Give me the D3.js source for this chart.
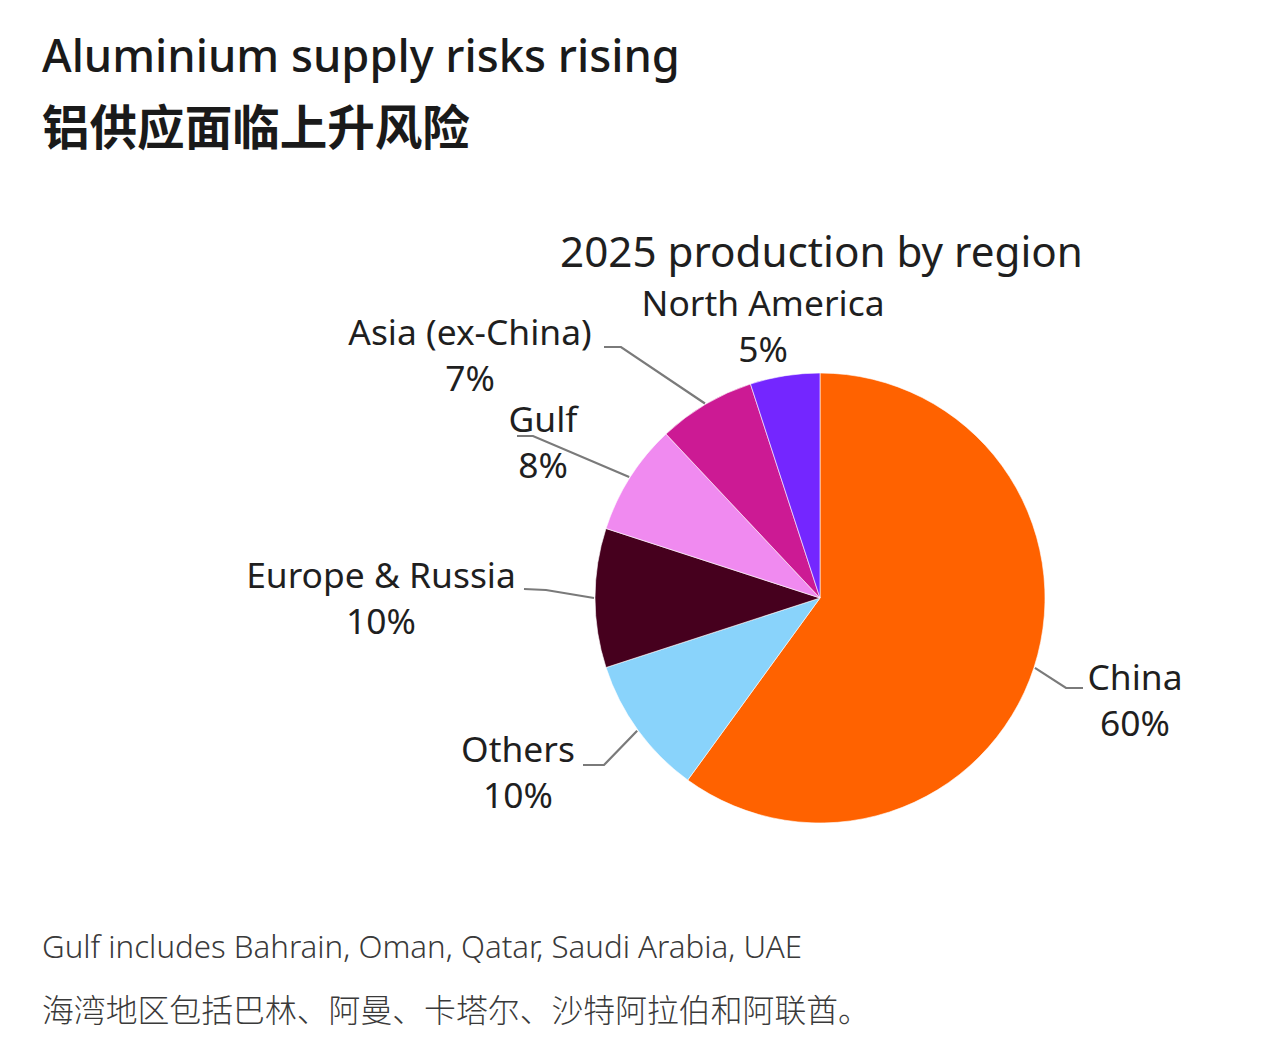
<!DOCTYPE html>
<html>
<head>
<meta charset="utf-8">
<script src="https://cdn.jsdelivr.net/npm/d3@7"></script>
<style>
  html, body { margin: 0; padding: 0; background: #ffffff; }
  svg { display: block; }
  text { font-family: "Noto Sans", "Noto Sans CJK SC", sans-serif; }
</style>
</head>
<body>
<div id="chart"></div>
<script>
// values (share of 2025 output, %)
var regions = ["China", "Others", "Europe & Russia", "Gulf", "Asia (ex-China)", "North America"];
var shares = [60, 10, 10, 8, 7, 5];
var sliceColors = ["#ff6200", "#89d3fb", "#46001e", "#f08af0", "#cc1a94", "#7426ff"];

var titleEn = "Aluminium supply risks rising";
var titleZh = "铝供应面临上升风险";
var subtitle = "2025 production by region";
var noteEn = "Gulf includes Bahrain, Oman, Qatar, Saudi Arabia, UAE";
var noteZh = "海湾地区包括巴林、阿曼、卡塔尔、沙特阿拉伯和阿联酋。";

// label placement: centre x / first baseline, plus leader line end + elbow
var labelLayout = {
    "China":           { x: 1135, y: 690, leader: [[1083, 688], [1066, 688]] },
    "Others":          { x: 518,  y: 762, leader: [[583, 765], [604, 765]] },
    "Europe & Russia": { x: 381,  y: 588, leader: [[524, 589], [546, 590]] },
    "Gulf":            { x: 543,  y: 432, leader: [[517, 436], [533, 436]] },
    "Asia (ex-China)": { x: 470,  y: 345, leader: [[604, 347], [621, 347]] },
    "North America":   { x: 763,  y: 316, leader: null }
};

var width = 1280, height = 1054;
var cx = 820, cy = 598, radius = 225;
var lineGap = 46;

var data = regions.map(function(name, i) {
    return { name: name, value: shares[i] };
});

var svg = d3.select("#chart")
    .append("svg")
    .attr("width", width)
    .attr("height", height);

svg.append("rect")
    .attr("width", width)
    .attr("height", height)
    .attr("fill", "#ffffff");

// squeeze/stretch font size so a string spans the width it has in the picture
function fitWidth(sel, target) {
    var fs = parseFloat(sel.attr("font-size"));
    var len = sel.node().getComputedTextLength();
    if (len > 0) {
        sel.attr("font-size", (fs * target / len).toFixed(2));
    }
    return sel;
}

var t1 = svg.append("text")
    .attr("x", 42).attr("y", 72)
    .attr("font-size", 44)
    .attr("font-weight", 500)
    .attr("fill", "#1a1a1a")
    .text(titleEn);
fitWidth(t1, 638);

var t2 = svg.append("text")
    .attr("x", 42).attr("y", 145)
    .attr("font-size", 47)
    .attr("font-weight", 700)
    .attr("fill", "#1a1a1a")
    .style("font-family", "'Noto Sans CJK SC', sans-serif")
    .text(titleZh);
fitWidth(t2, 428);

var st = svg.append("text")
    .attr("x", 560).attr("y", 267)
    .attr("font-size", 38)
    .attr("fill", "#1f1f1f")
    .text(subtitle);
fitWidth(st, 523);

var pie = d3.pie()
    .sort(null)
    .value(function(d) { return d.value; });

var arc = d3.arc()
    .innerRadius(0)
    .outerRadius(radius);

var arcs = pie(data);

var g = svg.append("g")
    .attr("transform", "translate(" + cx + "," + cy + ")");

g.selectAll("path.slice")
    .data(arcs)
    .enter()
    .append("path")
    .attr("class", "slice")
    .attr("d", arc)
    .attr("fill", function(d, i) { return sliceColors[i]; })
    .attr("stroke", "#ffffff")
    .attr("stroke-width", 0.6);

// leader lines: label end -> elbow -> pie edge at the slice mid angle
var line = d3.line();
arcs.forEach(function(d) {
    var lay = labelLayout[d.data.name];
    if (!lay.leader) return;
    var mid = (d.startAngle + d.endAngle) / 2;
    var edge = [cx + (radius + 1) * Math.sin(mid), cy - (radius + 1) * Math.cos(mid)];
    svg.append("path")
        .attr("d", line([lay.leader[0], lay.leader[1], edge]))
        .attr("fill", "none")
        .attr("stroke", "#7a7a7a")
        .attr("stroke-width", 2.2);
});

var labels = svg.selectAll("g.label")
    .data(arcs)
    .enter()
    .append("g")
    .attr("class", "label");

labels.append("text")
    .attr("x", function(d) { return labelLayout[d.data.name].x; })
    .attr("y", function(d) { return labelLayout[d.data.name].y; })
    .attr("text-anchor", "middle")
    .attr("font-size", 35.4)
    .attr("fill", "#1f1f1f")
    .text(function(d) { return d.data.name; });

labels.append("text")
    .attr("x", function(d) { return labelLayout[d.data.name].x; })
    .attr("y", function(d) { return labelLayout[d.data.name].y + lineGap; })
    .attr("text-anchor", "middle")
    .attr("font-size", 35.4)
    .attr("fill", "#1f1f1f")
    .text(function(d) { return d.data.value + "%"; });

var n1 = svg.append("text")
    .attr("x", 42).attr("y", 958)
    .attr("font-size", 28)
    .attr("font-weight", 300)
    .attr("fill", "#3a3a3a")
    .text(noteEn);
fitWidth(n1, 760);

var n2 = svg.append("text")
    .attr("x", 42).attr("y", 1022)
    .attr("font-size", 32)
    .attr("font-weight", 300)
    .attr("fill", "#3a3a3a")
    .style("font-family", "'Noto Sans CJK SC', sans-serif")
    .text(noteZh);
fitWidth(n2, 828);
</script>
</body>
</html>
